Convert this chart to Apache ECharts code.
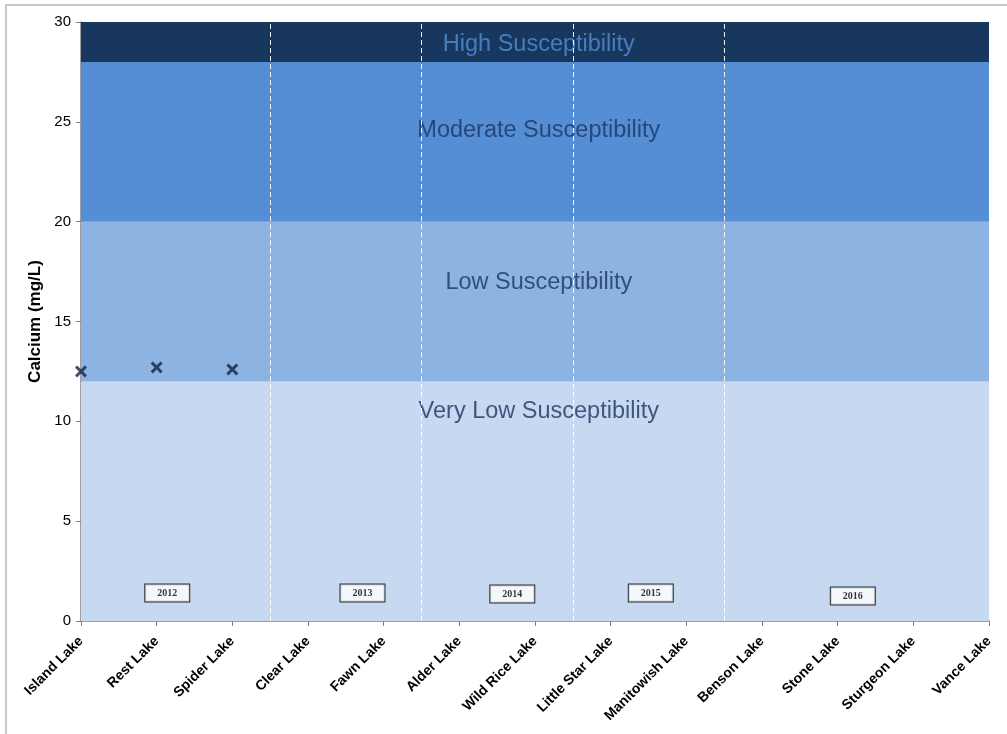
<!DOCTYPE html>
<html><head><meta charset="utf-8">
<script src="https://cdn.jsdelivr.net/npm/echarts@6/dist/echarts.min.js"></script>
<style>html,body{margin:0;padding:0;background:#fff}#c{width:1007px;height:734px}</style>
</head><body><div id="c"></div>
<script>
var categories = ['Island Lake','Rest Lake','Spider Lake','Clear Lake','Fawn Lake','Alder Lake','Wild Rice Lake','Little Star Lake','Manitowish Lake','Benson Lake','Stone Lake','Sturgeon Lake','Vance Lake'];
var calcium = [12.5, 12.7, 12.6];
var bandNames = ['Very Low Susceptibility','Low Susceptibility','Moderate Susceptibility','High Susceptibility'];
var bandBounds = [0, 12, 20, 28, 30];
var bandColors = ['#c6d9f1','#8db3e2','#558ed5','#17375e'];
var bandLabelPos = [[6.05,10.47],[6.05,16.95],[6.05,24.55],[6.05,28.85]];
var yearDividers = [2.5, 4.5, 6.5, 8.5];
var years = ['2012','2013','2014','2015','2016'];
var yearLabelPos = [[1.14,1.4],[3.72,1.4],[5.7,1.35],[7.53,1.4],[10.2,1.25]];
var yTicks = [0,5,10,15,20,25,30];

var chart = echarts.init(document.getElementById('c'), null, {renderer:'canvas'});
var xMark = 'path://M0,1.8 L1.8,0 L5,3.2 L8.2,0 L10,1.8 L6.8,5 L10,8.2 L8.2,10 L5,6.8 L1.8,10 L0,8.2 L3.2,5 Z';
var areas = [];
for (var i=0;i<bandNames.length;i++){
  areas.push([{yAxis:bandBounds[i], itemStyle:{color:bandColors[i], opacity:1}},{yAxis:bandBounds[i+1]}]);
}
chart.setOption({
  animation:false,
  graphic:[{type:'rect', shape:{x:6,y:5,width:1010,height:740}, style:{fill:'none', stroke:'#c8c8c8', lineWidth:2}, silent:true}],
  grid:{left:81, right:18, top:22, bottom:113},
  xAxis:{type:'value', min:0, max:12, interval:1,
    axisLine:{show:true, lineStyle:{color:'#808080', width:1.5}},
    axisTick:{show:true, length:5, lineStyle:{color:'#808080'}},
    splitLine:{show:false},
    axisLabel:{rotate:45, margin:18, color:'#000', fontFamily:'Liberation Sans, Arial', fontWeight:'bold', fontSize:14,
      formatter:function(v){return categories[Math.round(v)]||'';}}
  },
  yAxis:{type:'value', min:yTicks[0], max:yTicks[yTicks.length-1], interval:5,
    name:'Calcium (mg/L)', nameLocation:'middle', nameGap:34, nameRotate:90,
    nameTextStyle:{fontFamily:'Liberation Sans, Arial', fontWeight:'bold', fontSize:17, color:'#000'},
    axisLine:{show:true, lineStyle:{color:'#808080', width:1.5}},
    axisTick:{show:true, length:5, lineStyle:{color:'#808080'}},
    splitLine:{show:false},
    axisLabel:{margin:10, color:'#000', fontFamily:'Liberation Sans, Arial', fontSize:15}
  },
  series:[
    {type:'line', data:[], z:1,
      markArea:{silent:true, data:areas},
      markLine:{silent:true, symbol:'none', label:{show:false},
        lineStyle:{color:'#ffffff', type:[5,3], width:1, opacity:0.9},
        data:yearDividers.map(function(v){return {xAxis:v};})}
    },
    {type:'scatter', z:3, symbolSize:0, silent:true,
      data:bandNames.map(function(n,i){return {value:bandLabelPos[i], name:n, label:{color: i===3?'#558ed5':'#1b3461'}};}),
      label:{show:true, position:'inside', formatter:function(p){return p.name;},
        fontFamily:'Liberation Sans, Arial', fontSize:23.5},
      labelLayout:{hideOverlap:false}
    },
    {type:'scatter', z:4, symbolSize:0, silent:true,
      data:years.map(function(n,i){return {value:yearLabelPos[i], name:n};}),
      label:{show:true, position:'inside', formatter:function(p){return p.name;},
        fontFamily:'Liberation Serif, Times New Roman', fontWeight:'bold', fontSize:10, color:'#000',
        backgroundColor:'#fff', borderColor:'#000', borderWidth:1, padding:[4,12,3,12]}
    },
    {type:'scatter', z:5, symbol:xMark, symbolSize:12,
      itemStyle:{color:'#14233f'},
      data:calcium.map(function(v,i){return [i,v];})}
  ]
});
</script></body></html>
